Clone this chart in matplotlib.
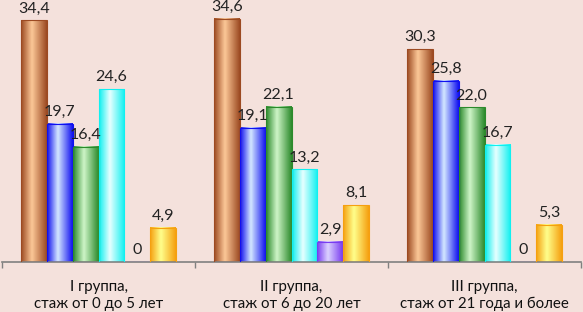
import numpy as np
import matplotlib
matplotlib.use("Agg")
import matplotlib.pyplot as plt
from matplotlib.colors import LinearSegmentedColormap

plt.rcParams['font.family'] = ['Lato', 'DejaVu Sans']

# data
groups = ["I группа,\nстаж от 0 до 5 лет",
          "II группа,\nстаж от 6 до 20 лет",
          "III группа,\nстаж от 21 года и более"]
series_1 = [34.4, 34.6, 30.3]
series_2 = [19.7, 19.1, 25.8]
series_3 = [16.4, 22.1, 22.0]
series_4 = [24.6, 13.2, 16.7]
series_5 = [0, 2.9, 0]
series_6 = [4.9, 8.1, 5.3]
value_labels = [["34,4", "34,6", "30,3"],
                ["19,7", "19,1", "25,8"],
                ["16,4", "22,1", "22,0"],
                ["24,6", "13,2", "16,7"],
                ["0", "2,9", "0"],
                ["4,9", "8,1", "5,3"]]

all_series = [series_1, series_2, series_3, series_4, series_5, series_6]
# (dark edge colour, light centre colour)
bar_colors = [("#9c4a22", "#fcc898"),
              ("#1010f0", "#d4e8ff"),
              ("#2c8a2c", "#cff5c8"),
              ("#10f0f0", "#e8ffff"),
              ("#7a3cf0", "#dcd2ff"),
              ("#f5a010", "#ffff8c")]

bg = "#f4e1dc"

fig = plt.figure(figsize=(5.83, 3.12), dpi=100)
fig.patch.set_facecolor(bg)
ax = fig.add_axes([2 / 583, 50 / 312, 579 / 583, 262 / 312])
ax.set_facecolor(bg)

x = np.arange(len(groups))
width = 0.134
n = len(all_series)

for i, (vals, (dark, light)) in enumerate(zip(all_series, bar_colors)):
    pos = x + (i - (n - 1) / 2) * width
    bars = ax.bar(pos, vals, width, color="none", edgecolor=dark, linewidth=0.8, zorder=3)
    cmap = LinearSegmentedColormap.from_list("g%d" % i, [(0, dark), (0.42, light), (1, dark)])
    grad = np.linspace(0, 1, 64).reshape(1, -1)
    for b, lab in zip(bars, value_labels[i]):
        bx, by = b.get_x(), b.get_y()
        bw, bh = b.get_width(), b.get_height()
        if bh > 0:
            ax.imshow(grad, cmap=cmap, aspect="auto", extent=[bx, bx + bw, by, by + bh],
                      zorder=2, interpolation="bicubic")
        ax.annotate(lab, (bx + bw / 2, bh), xytext=(0, 3.5), textcoords="offset points",
                    ha="center", va="bottom", fontsize=11.5, color="#222222",
                    annotation_clip=False, zorder=4)

ax.set_xlim(-0.5, len(groups) - 0.5)
ax.set_ylim(0, 37.3)

for side in ["top", "right", "left"]:
    ax.spines[side].set_visible(False)
ax.spines["bottom"].set_color("#808080")
ax.spines["bottom"].set_linewidth(1.2)

ax.set_yticks([])
ax.set_xticks(x)
ax.set_xticklabels(groups, fontsize=10.8, linespacing=1.25, color="#111111")
ax.tick_params(axis="x", which="major", length=0, pad=13)
ax.set_xticks(np.arange(len(groups) + 1) - 0.5, minor=True)
ax.tick_params(axis="x", which="minor", length=4, color="#808080", width=1)

fig.savefig("out.png", dpi=100, facecolor=bg)
